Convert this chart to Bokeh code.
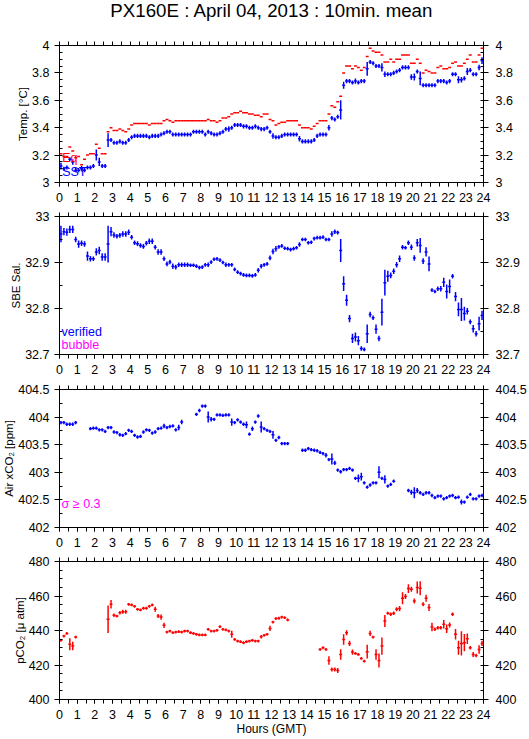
import numpy as np
from bokeh.plotting import figure
from bokeh.models import (ColumnDataSource, LinearAxis, Range1d, Label,
                          SingleIntervalTicker, FixedTicker, NumeralTickFormatter)
from bokeh.core.properties import value
from bokeh.layouts import column
from bokeh.embed import file_html
from bokeh.resources import INLINE

NA = float("nan")
FONT = "Liberation Sans"
TITLE = "PX160E : April 04, 2013 : 10min. mean"
X_LABEL = "Hours (GMT)"
N_PER_HOUR = 6  # 10-minute means

# ---------------- Temperature panel ----------------
sst = [
    3.12, 3.10, 3.11, 3.17, 3.15, 3.09,
    3.09, 3.10, 3.09, 3.11, 3.11, 3.12,
    3.20, 3.15, 3.12, 3.12, 3.31, 3.31,
    3.29, 3.29, 3.30, 3.29, 3.29, 3.31,
    3.33, 3.34, 3.34, 3.34, 3.34, 3.34,
    3.33, 3.34, 3.34, 3.34, 3.35, 3.36,
    3.37, 3.37, 3.35, 3.35, 3.35, 3.35,
    3.35, 3.35, 3.35, 3.37, 3.37, 3.37,
    3.37, 3.35, 3.37, 3.36, 3.35, 3.35,
    3.36, 3.37, 3.39, 3.39, 3.40, 3.42,
    3.42, 3.42, 3.41, 3.41, 3.40, 3.40,
    3.41, 3.40, 3.39, 3.39, 3.40, 3.37,
    3.34, 3.33, 3.33, 3.34, 3.35, 3.35,
    3.35, 3.35, 3.35, 3.32, 3.30, 3.30,
    3.30, 3.30, 3.31, 3.34, 3.35, 3.35,
    3.35, 3.40, 3.47, 3.46, 3.48, 3.53,
    3.71, 3.74, 3.74, 3.73, 3.74, 3.73,
    3.74, 3.74, 3.83, 3.88, 3.87, 3.85,
    3.85, 3.84, 3.79, 3.79, 3.79, 3.80,
    3.81, 3.82, 3.84, 3.84, 3.84, 3.77,
    3.77, 3.81, 3.76, 3.71, 3.71, 3.71,
    3.71, 3.71, 3.74, 3.74, 3.74, 3.73,
    3.74, 3.79, 3.79, 3.75, 3.75, 3.76,
    3.81, 3.82, 3.79, 3.79, 3.84, 3.89,
]
sst_sd = [
    0.025, 0.015, 0.015, 0.015, 0.020, 0.015,
    0.015, 0.020, 0.015, 0.015, 0.015, 0.015,
    0.040, 0.030, 0.015, 0.015, 0.050, 0.015,
    0.015, 0.015, 0.015, 0.015, 0.015, 0.015,
    0.015, 0.015, 0.015, 0.015, 0.015, 0.015,
    0.015, 0.015, 0.015, 0.015, 0.015, 0.015,
    0.015, 0.015, 0.015, 0.015, 0.015, 0.015,
    0.015, 0.015, 0.015, 0.015, 0.015, 0.015,
    0.015, 0.015, 0.015, 0.015, 0.015, 0.015,
    0.015, 0.015, 0.015, 0.020, 0.015, 0.015,
    0.015, 0.015, 0.015, 0.015, 0.015, 0.015,
    0.015, 0.015, 0.015, 0.015, 0.015, 0.015,
    0.020, 0.015, 0.015, 0.015, 0.015, 0.015,
    0.015, 0.015, 0.015, 0.020, 0.015, 0.015,
    0.015, 0.015, 0.015, 0.015, 0.015, 0.015,
    0.015, 0.020, 0.015, 0.015, 0.015, 0.070,
    0.025, 0.015, 0.015, 0.015, 0.020, 0.015,
    0.015, 0.015, 0.050, 0.015, 0.015, 0.015,
    0.015, 0.030, 0.020, 0.015, 0.015, 0.015,
    0.015, 0.015, 0.015, 0.015, 0.015, 0.020,
    0.025, 0.015, 0.050, 0.015, 0.015, 0.015,
    0.015, 0.015, 0.015, 0.015, 0.015, 0.015,
    0.015, 0.015, 0.015, 0.025, 0.020, 0.015,
    0.025, 0.015, 0.015, 0.015, 0.020, 0.025,
]
eq_temp = [
    3.21, 3.19, 3.19, 3.26, 3.23, 3.18,
    3.19, 3.13, 3.17, 3.20, 3.21, 3.21,
    3.28, 3.25, 3.21, 3.21, 3.37, 3.40,
    3.38, 3.38, 3.39, 3.38, 3.37, 3.39,
    3.42, 3.43, 3.43, 3.43, 3.43, 3.43,
    3.42, 3.43, 3.43, 3.43, 3.43, 3.45,
    3.46, 3.45, 3.44, 3.45, 3.45, 3.45,
    3.45, 3.45, 3.45, 3.45, 3.45, 3.45,
    3.45, 3.45, 3.46, 3.45, 3.45, 3.44,
    3.45, 3.47, 3.47, 3.48, 3.50, 3.51,
    3.51, 3.52, 3.51, 3.51, 3.50, 3.50,
    3.49, 3.49, 3.48, 3.50, 3.50, 3.46,
    3.45, 3.42, 3.43, 3.44, 3.44, 3.45,
    3.45, 3.45, 3.45, 3.42, 3.40, 3.40,
    3.40, 3.39, 3.41, 3.43, 3.45, 3.45,
    3.45, 3.50, 3.56, 3.55, 3.59, 3.63,
    3.80, 3.85, 3.85, 3.83, 3.85, 3.84,
    3.82, 3.84, 3.92, 3.98, 3.96, 3.95,
    3.95, 3.93, 3.88, 3.88, 3.90, 3.88,
    3.90, 3.90, 3.93, 3.93, 3.93, 3.87,
    3.87, 3.90, 3.87, 3.80, 3.82, 3.81,
    3.80, 3.80, 3.84, 3.85, 3.83, 3.83,
    3.84, 3.87, 3.88, 3.85, 3.85, 3.87,
    3.90, 3.93, 3.88, 3.88, 3.93, 3.98,
]

# ---------------- Salinity panel ----------------
sal = [
    32.962, 32.967, 32.966, 32.972, 32.972, 32.950,
    32.940, 32.942, 32.940, 32.914, 32.908, 32.908,
    32.923, 32.926, 32.912, 32.912, 32.940, 32.967,
    32.960, 32.957, 32.959, 32.962, 32.962, 32.966,
    32.955, 32.943, 32.941, 32.937, 32.935, 32.942,
    32.946, 32.946, 32.933, 32.923, 32.923, 32.908,
    32.897, 32.901, 32.892, 32.890, 32.895, 32.895,
    32.895, 32.895, 32.894, 32.894, 32.892, 32.889,
    32.890, 32.895, 32.895, 32.901, 32.907, 32.908,
    32.905, 32.900, 32.895, 32.895, 32.895, 32.885,
    32.879, 32.876, 32.873, 32.872, 32.872, 32.871,
    32.873, 32.883, 32.892, 32.895, 32.897, 32.910,
    32.924, 32.930, 32.934, 32.936, 32.931, 32.930,
    32.928, 32.930, 32.932, 32.939, 32.950, 32.950,
    32.943, 32.944, 32.952, 32.954, 32.954, 32.955,
    32.950, 32.950, 32.962, 32.967, 32.965, 32.926,
    32.854, 32.818, 32.778, 32.735, 32.738, 32.730,
    32.713, 32.711, 32.745, 32.787, 32.780, 32.755,
    32.735, 32.792, 32.856, 32.870, 32.872, 32.881,
    32.895, 32.908, 32.933, 32.932, 32.943, 32.933,
    32.910, 32.943, 32.937, 32.903, 32.923, 32.897,
    32.840, 32.837, 32.843, 32.843, 32.857, 32.837,
    32.848, 32.870, 32.826, 32.798, 32.798, 32.789,
    32.794, 32.771, 32.756, 32.745, 32.767, 32.785,
]
sal_sd = [
    0.018, 0.008, 0.008, 0.008, 0.008, 0.006,
    0.008, 0.006, 0.006, 0.010, 0.006, 0.005,
    0.008, 0.008, 0.008, 0.008, 0.040, 0.010,
    0.006, 0.005, 0.005, 0.006, 0.006, 0.006,
    0.005, 0.005, 0.005, 0.005, 0.005, 0.005,
    0.006, 0.006, 0.005, 0.006, 0.006, 0.005,
    0.005, 0.005, 0.006, 0.005, 0.005, 0.005,
    0.005, 0.005, 0.004, 0.004, 0.004, 0.004,
    0.004, 0.004, 0.005, 0.004, 0.004, 0.004,
    0.004, 0.004, 0.005, 0.004, 0.004, 0.004,
    0.004, 0.004, 0.004, 0.004, 0.004, 0.004,
    0.004, 0.005, 0.005, 0.004, 0.004, 0.005,
    0.006, 0.006, 0.004, 0.004, 0.004, 0.004,
    0.004, 0.004, 0.004, 0.005, 0.004, 0.004,
    0.004, 0.004, 0.004, 0.004, 0.004, 0.004,
    0.004, 0.004, 0.006, 0.005, 0.004, 0.025,
    0.016, 0.012, 0.008, 0.010, 0.010, 0.010,
    0.005, 0.004, 0.020, 0.006, 0.005, 0.010,
    0.006, 0.029, 0.028, 0.012, 0.006, 0.006,
    0.006, 0.007, 0.005, 0.004, 0.005, 0.006,
    0.006, 0.008, 0.016, 0.006, 0.010, 0.016,
    0.004, 0.004, 0.005, 0.006, 0.010, 0.015,
    0.015, 0.005, 0.010, 0.015, 0.025, 0.015,
    0.007, 0.005, 0.008, 0.006, 0.015, 0.010,
]

# ---------------- Air xCO2 panel ----------------
xco2 = [
    403.90, 403.90, 403.87, 403.87, 403.87, 403.90,
    NA, NA, NA, NA, 403.79, 403.80,
    403.80, 403.77, 403.77, 403.74, 403.81, 403.81,
    403.73, 403.72, 403.68, 403.67, 403.70, 403.76,
    403.74, 403.67, 403.64, 403.65, 403.73, 403.77,
    403.76, 403.71, 403.73, 403.79, 403.80, 403.84,
    403.81, 403.83, 403.84, 403.77, 403.81, 403.91,
    NA, NA, NA, NA, 404.05, 404.12,
    404.20, 404.20, 404.00, 403.96, 403.96, 404.04,
    404.04, 404.03, 404.04, 404.04, 403.91, 403.90,
    403.95, 403.91, 403.87, 403.86, 403.69, 403.79,
    403.91, 404.02, 403.82, 403.79, 403.76, 403.74,
    403.68, 403.58, 403.63, 403.52, 403.52, 403.52,
    NA, NA, NA, NA, 403.40, 403.40,
    403.43, 403.41, 403.40, 403.39, 403.36, 403.34,
    403.31, 403.23, 403.24, 403.17, 403.04, 403.01,
    403.05, 403.05, 403.07, 403.04, 402.89, 402.89,
    402.92, 402.81, 402.73, 402.77, 402.81, 402.81,
    403.00, 402.89, 402.87, 402.75, 402.78, 402.84,
    NA, NA, NA, NA, 402.67, 402.64,
    402.63, 402.67, 402.63, 402.60, 402.63, 402.63,
    402.58, 402.54, 402.57, 402.57, 402.52, 402.54,
    402.57, 402.58, 402.54, 402.55, 402.46, 402.46,
    402.55, 402.60, 402.52, 402.52, 402.57, 402.58,
]
xco2_sd = [
    0.03, 0.03, 0.03, 0.03, 0.03, 0.03,
    0.03, 0.03, 0.03, 0.03, 0.03, 0.03,
    0.03, 0.03, 0.03, 0.03, 0.03, 0.03,
    0.03, 0.03, 0.03, 0.03, 0.03, 0.03,
    0.03, 0.03, 0.03, 0.03, 0.03, 0.03,
    0.03, 0.03, 0.03, 0.03, 0.03, 0.04,
    0.03, 0.03, 0.03, 0.03, 0.05, 0.04,
    0.03, 0.03, 0.03, 0.03, 0.03, 0.03,
    0.03, 0.03, 0.10, 0.04, 0.03, 0.03,
    0.03, 0.03, 0.03, 0.03, 0.065, 0.03,
    0.03, 0.03, 0.03, 0.06, 0.03, 0.04,
    0.03, 0.03, 0.10, 0.03, 0.03, 0.03,
    0.07, 0.03, 0.03, 0.03, 0.03, 0.03,
    0.03, 0.03, 0.03, 0.03, 0.03, 0.03,
    0.03, 0.03, 0.03, 0.03, 0.03, 0.03,
    0.04, 0.03, 0.10, 0.04, 0.03, 0.03,
    0.03, 0.03, 0.03, 0.03, 0.03, 0.07,
    0.07, 0.03, 0.03, 0.03, 0.03, 0.03,
    0.11, 0.03, 0.075, 0.03, 0.03, 0.03,
    0.03, 0.03, 0.03, 0.03, 0.03, 0.045,
    0.10, 0.045, 0.03, 0.03, 0.03, 0.03,
    0.03, 0.03, 0.03, 0.03, 0.03, 0.03,
    0.03, 0.03, 0.03, 0.03, 0.045, 0.03,
    0.03, 0.03, 0.03, 0.03, 0.03, 0.03,
]

# ---------------- pCO2 panel ----------------
pco2 = [
    434.3, 436.8, 438.3, 432.0, 431.0, 436.2,
    NA, NA, NA, NA, NA, NA,
    NA, NA, NA, NA, 446.5, 455.2,
    448.8, 448.4, 450.3, 450.9, 450.9, 455.2,
    454.8, 454.0, 452.3, 451.9, 452.9, 452.9,
    454.0, 454.8, 452.3, 448.4, 447.8, 443.0,
    439.1, 439.7, 438.7, 439.1, 439.3, 439.1,
    439.7, 439.7, 438.7, 438.3, 437.8, 437.4,
    437.4, 437.4, 440.7, 439.7, 439.7, 440.1,
    442.2, 440.7, 440.3, 439.7, 437.8, 434.8,
    433.9, 433.5, 432.9, 433.5, 433.9, 434.3,
    433.9, 433.9, 436.4, 437.2, 437.8, 441.2,
    444.9, 446.9, 447.1, 447.8, 447.4, 446.1,
    NA, NA, NA, NA, NA, NA,
    NA, NA, NA, NA, 429.0, 430.0,
    429.0, 422.6, 417.4, 417.4, 416.8, 426.1,
    434.8, 438.7, 432.5, 427.5, 426.7, 426.1,
    423.8, 422.2, 427.7, 438.3, 436.2, 426.1,
    422.6, 431.0, 445.5, 450.0, 449.4, 450.0,
    452.3, 452.7, 458.7, 459.7, 464.3, 463.9,
    457.1, 464.9, 464.5, 455.2, 458.7, 453.3,
    442.0, 440.7, 441.6, 441.6, 443.6, 441.0,
    443.2, 449.4, 437.8, 430.0, 432.5, 432.9,
    435.2, 430.0, 426.1, 425.5, 429.0, 432.5,
]
pco2_sd = [
    0.8, 0.8, 0.8, 3.5, 2.5, 0.8,
    0.8, 0.8, 0.8, 0.8, 0.8, 0.8,
    0.8, 0.8, 0.8, 0.8, 8.0, 2.5,
    1.0, 0.8, 1.0, 1.2, 1.2, 0.8,
    0.8, 0.8, 0.8, 0.8, 0.8, 0.8,
    0.8, 0.8, 1.5, 1.2, 1.5, 1.5,
    0.8, 0.8, 0.8, 0.8, 0.8, 0.8,
    0.8, 0.8, 0.8, 0.8, 0.8, 0.8,
    0.8, 0.8, 0.8, 0.8, 0.8, 0.8,
    0.8, 0.8, 0.8, 0.8, 2.0, 0.8,
    0.8, 0.8, 0.8, 0.8, 0.8, 0.8,
    0.8, 0.8, 1.0, 0.8, 0.8, 1.5,
    0.8, 0.8, 0.8, 0.8, 0.8, 0.8,
    0.8, 0.8, 0.8, 0.8, 0.8, 0.8,
    0.8, 0.8, 0.8, 0.8, 0.8, 0.8,
    0.8, 2.5, 1.2, 1.2, 1.5, 3.0,
    3.0, 1.5, 1.5, 1.5, 0.8, 0.8,
    0.8, 0.8, 4.0, 1.5, 0.8, 3.0,
    4.0, 5.0, 3.5, 0.8, 1.0, 1.0,
    1.2, 1.5, 3.5, 1.5, 2.5, 1.5,
    1.5, 3.5, 4.0, 1.2, 2.0, 2.0,
    2.5, 1.0, 1.0, 1.0, 2.5, 2.5,
    1.5, 1.0, 3.0, 4.0, 7.0, 5.0,
    3.0, 1.0, 1.5, 1.0, 2.5, 1.5,
]

t_center = (np.arange(24 * N_PER_HOUR) + 0.5) / N_PER_HOUR
HALF_BIN = 0.5 / N_PER_HOUR
half_hours = [i * 0.5 for i in range(49)]


def crosses(p, y, sd, color, lw=1.5):
    y = np.asarray(y, dtype=float)
    ok = ~np.isnan(y)
    t = t_center[ok]
    yy = y[ok]
    data = dict(t=t, x0=t - HALF_BIN, x1=t + HALF_BIN, y=yy)
    if sd is not None:
        e = np.asarray(sd, dtype=float)[ok]
        data["y0"] = yy - e
        data["y1"] = yy + e
    src = ColumnDataSource(data)
    p.segment(x0="x0", x1="x1", y0="y", y1="y", source=src,
              line_color=color, line_width=lw)
    if sd is not None:
        p.segment(x0="t", x1="t", y0="y0", y1="y1", source=src,
                  line_color=color, line_width=lw)


def style_axis(ax, kind):
    ax.axis_line_color = "black"
    ax.major_tick_line_color = "black"
    ax.minor_tick_line_color = "black"
    ax.major_label_text_font = FONT
    ax.major_label_text_font_size = "12.5px"
    ax.major_label_text_color = "black"
    ax.axis_label_text_font = FONT
    ax.axis_label_text_font_style = "normal"
    ax.axis_label_text_font_size = "12px"
    ax.axis_label_text_color = "black"
    if kind == "x":
        ax.major_tick_in = 0
        ax.major_tick_out = 4
        ax.minor_tick_in = 0
        ax.minor_tick_out = 4
        ax.major_label_standoff = 6
        ax.axis_label_standoff = 0
    else:
        ax.major_tick_in = 0
        ax.major_tick_out = 5
        ax.minor_tick_in = 3
        ax.minor_tick_out = 0
        ax.major_label_standoff = 5
        ax.axis_label_standoff = 0
        ax.axis_label_text_font_size = "11.5px"


def make_panel(height, yr, major, nminor, ylabel, btop, bbot, xlabel=None):
    p = figure(width=529, height=height, x_range=Range1d(0, 24),
               y_range=Range1d(*yr), output_backend="svg",
               toolbar_location=None, min_border_left=58, min_border_right=44,
               min_border_top=btop, min_border_bottom=bbot)
    p.grid.visible = False
    p.outline_line_color = "black"
    p.background_fill_color = "white"
    p.border_fill_color = "white"
    xt = SingleIntervalTicker(interval=1, num_minor_ticks=2)
    yt = SingleIntervalTicker(interval=major, num_minor_ticks=nminor)
    fmt = NumeralTickFormatter(format="0.[0]")
    p.xaxis.ticker = xt
    p.yaxis.ticker = yt
    p.yaxis.formatter = fmt
    p.yaxis.axis_label = ylabel
    if xlabel:
        p.xaxis.axis_label = xlabel
    style_axis(p.xaxis[0], "x")
    style_axis(p.yaxis[0], "y")
    # top axis: tick marks only (every half hour, no labels)
    top = LinearAxis(ticker=FixedTicker(ticks=[], minor_ticks=half_hours))
    style_axis(top, "x")
    top.major_label_standoff = 0
    p.add_layout(top, "above")
    right = LinearAxis(ticker=yt, formatter=fmt)
    style_axis(right, "y")
    right.major_label_standoff = 7
    p.add_layout(right, "right")
    return p


def legend_text(p, x, y, text, color, size="12.5px"):
    p.add_layout(Label(x=x, y=y, text=text, text_color=color, text_font=FONT,
                       text_font_size=size, text_baseline="middle"))


# title strip (a bare figure whose whole canvas is its frame)
pt = figure(width=529, height=24, x_range=Range1d(0, 529), y_range=Range1d(0, 24),
            output_backend="svg", toolbar_location=None,
            x_axis_location=None, y_axis_location=None, min_border=0)
pt.grid.visible = False
pt.outline_line_color = None
pt.background_fill_color = "white"
pt.border_fill_color = "white"
pt.text(x=[265], y=[14.5], text=[TITLE], text_align="center", text_baseline="middle",
        text_font=value(FONT), text_font_size=value("18.7px"), text_color="black")

p1 = make_panel(184, (3, 4), 0.2, 4, "Temp. [°C]", 21, 26)
crosses(p1, eq_temp, None, "#ff0000")
crosses(p1, sst, sst_sd, "#0000ff")
legend_text(p1, 0.15, 3.178, "Eq", "#ff0000")
legend_text(p1, 0.15, 3.075, "SST", "#0000ff")

p2 = make_panel(172, (32.7, 33), 0.1, 2, "SBE Sal.", 8, 26)
crosses(p2, sal, sal_sd, "#0000ff")
legend_text(p2, 0.12, 32.749, "verified", "#0000ff")
legend_text(p2, 0.12, 32.721, "bubble", "#ff00ff")

p3 = make_panel(173, (402, 404.5), 0.5, 2, "Air xCO₂ [ppm]", 9, 26)
crosses(p3, xco2, xco2_sd, "#0000ff")
legend_text(p3, 0.12, 402.42, "σ ≥ 0.3", "#ff00ff")

p4 = make_panel(185, (400, 480), 20, 4, "pCO₂ [μ atm]", 8, 39, xlabel=X_LABEL)
crosses(p4, pco2, pco2_sd, "#ff0000")

layout = column(pt, p1, p2, p3, p4, spacing=0)
open("out.html", "w").write(file_html(layout, INLINE, title=TITLE))
